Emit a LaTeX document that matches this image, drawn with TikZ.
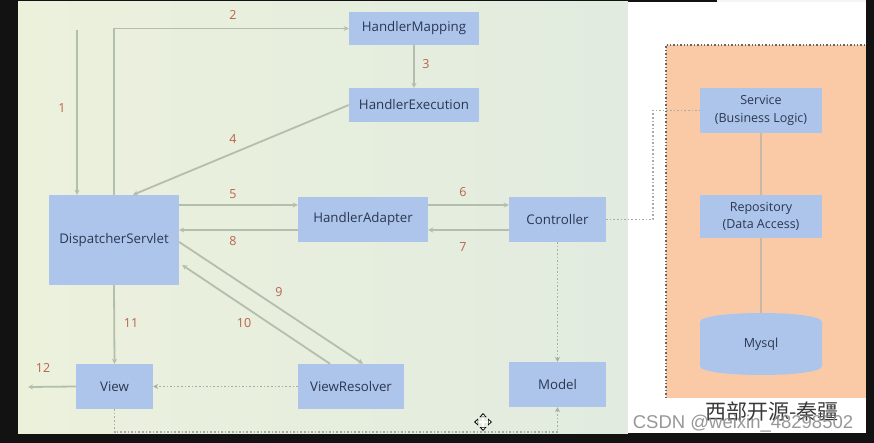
\documentclass[tikz,border=0pt]{standalone}
\usepackage{fontspec}
\setmainfont{Open Sans}
\newfontfamily\cjk{Noto Sans CJK SC}
\newfontfamily\arialf{Liberation Sans}
\usetikzlibrary{arrows.meta,calc}
\definecolor{bgA}{HTML}{ECF1DC}
\definecolor{bgB}{HTML}{E1EBDF}
\definecolor{nodeblue}{HTML}{ADC5EB}
\definecolor{nodetext}{HTML}{2B3752}
\definecolor{arrowc}{HTML}{B3BFAC}
\definecolor{dotc}{HTML}{A6ADA4}
\definecolor{numc}{HTML}{B8644A}
\definecolor{orangec}{HTML}{FAC9A6}
\definecolor{linkc}{HTML}{C9B8A6}
\tikzset{
  box/.style={fill=nodeblue, text=nodetext, inner sep=0pt, font=\fontsize{13.3}{16}\selectfont, align=center},
  arr/.style={draw=arrowc, line width=1.8pt, -{Stealth[length=5pt,width=5pt]}},
  dotarr/.style={draw=dotc, line width=1.6pt, dotted, -{Stealth[length=5pt,width=5pt]}},
  dotline/.style={draw=dotc, line width=1.6pt, dotted},
  num/.style={text=numc, font=\fontsize{12.5}{14}\selectfont, inner sep=0pt},
}
\begin{document}
\begin{tikzpicture}[x=1pt,y=-1pt]
\useasboundingbox (0,0) rectangle (874,443);
% frame and backgrounds
\fill[black!93] (0,0) rectangle (874,443);
\shade[left color=bgA, right color=bgB] (18,2) rectangle (628,433);
\fill[white] (628,2) rectangle (866,433);
\fill[white!96!black] (717,0) rectangle (866,2);
% orange panel
\fill[orangec] (666,45) rectangle (866,398);
\draw[black!60, line width=1.4pt, dotted] (666,398) -- (666,45) -- (866,45);
% nodes
\node[box, minimum width=130pt, minimum height=33pt] (HM) at (414,28.5) {HandlerMapping};
\node[box, minimum width=130pt, minimum height=34pt] (HE) at (414,105) {HandlerExecution};
\node[box, minimum width=130pt, minimum height=90pt] (DS) at (114,240) {DispatcherServlet};
\node[box, minimum width=130pt, minimum height=45pt] (HA) at (363,219.5) {HandlerAdapter};
\node[box, minimum width=97pt, minimum height=45pt] (CT) at (557.5,219.5) {Controller};
\node[box, minimum width=97pt, minimum height=45pt] (MD) at (557.5,384.5) {Model};
\node[box, minimum width=77pt, minimum height=45pt] (VW) at (114.5,386.5) {View};
\node[box, minimum width=106pt, minimum height=45pt] (VR) at (351,386.5) {ViewResolver};
\node[box, minimum width=122pt, minimum height=45pt, font=\fontsize{12.5}{17.5}\selectfont] (SV) at (761,110.5) {Service\\(Business Logic)};
\node[box, minimum width=122pt, minimum height=43pt, font=\fontsize{12.5}{17.5}\selectfont] (RP) at (761,216.5) {Repository\\(Data Access)};
\fill[nodeblue] (700,322) .. controls (700,310) and (822,310) .. (822,322) -- (822,366) .. controls (822,378) and (700,378) .. (700,366) -- cycle;
\node[box, fill=none, minimum width=122pt, minimum height=62pt, font=\fontsize{12.5}{16}\selectfont] (MY) at (761,344) {Mysql};
% helper coordinates
\coordinate (s1) at (77,30);
\coordinate (e12) at (28,387);
\coordinate (kx) at (653,0);
% solid arrows
\draw[arr] (s1) -- (DS.north -| s1);
\draw[arr] (DS.north) |- (HM.west);
\draw[arr, line width=1.2pt] (HM) -- (HE);
\draw[arr] (HE.west) -- ([xshift=19pt]DS.north);
\draw[arr] (DS.east |- {$(HA.west)+(0,-14.5)$}) -- ($(HA.west)+(0,-14.5)$);
\draw[arr] ($(HA.west)+(0,10.5)$) -- (DS.east |- {$(HA.west)+(0,10.5)$});
\draw[arr] (HA.east |- {$(CT.west)+(0,-14.5)$}) -- ($(CT.west)+(0,-14.5)$);
\draw[arr] ($(CT.west)+(0,10.5)$) -- (HA.east |- {$(CT.west)+(0,10.5)$});
\draw[arr] ($(DS.east)+(0,2)$) -- ([xshift=12pt]VR.north);
\draw[arr] ([xshift=-21pt]VR.north) -- ($(DS.east)+(3,25)$);
\draw[arr] (DS.south) -- (VW.north);
\draw[arr] (VW.west) -- (e12);
% dotted arrows
\draw[dotarr] (VR.west) -- (VW.east);
\draw[dotarr] (CT.south) -- (MD.north);
\draw[dotarr] (VW.south) -- ++(0,23) -| (MD.south);
\draw[dotline] (CT.east) -- (CT.east -| kx) -- (kx |- SV.west) -- (SV.west);
% layer links
\draw[linkc, line width=1.8pt] (SV) -- (RP);
\draw[linkc, line width=1.8pt] (RP) -- (MY);
% step numbers
\node[num] (n1) at (62,108) {1};
\node[num] (n2) at (233,15) {2};
\node[num] (n3) at (426,64) {3};
\node[num] (n4) at (233,139) {4};
\node[num] (n5) at (233,194) {5};
\node[num] (n8) at (233,241) {8};
\node[num] (n6) at (463,192) {6};
\node[num] (n7) at (463,247) {7};
\node[num] (n9) at (279,292) {9};
\node[num] (n10) at (244,323) {10};
\node[num] (n11) at (131,323) {11};
\node[num] (n12) at (43,368) {12};
% watermark texts
\node[text=black!78, font=\cjk\fontsize{21}{24}\selectfont, inner sep=0pt] (wm1) at (772,412) {西部开源-秦疆};
\node[text=black!45, font=\arialf\fontsize{18.5}{20}\selectfont, inner sep=0pt, opacity=0.9] (wm2) at (743,424) {CSDN @weixin\_48298502};
% move cursor
\begin{scope}[shift={(483,422)}]
\draw[black, line width=2.6pt] (-7,0) -- (7,0) (0,-7) -- (0,7);
\draw[white, line width=1.2pt] (-6,0) -- (6,0) (0,-6) -- (0,6);
\fill[black] (-9,0) -- (-5,-3.5) -- (-5,3.5) -- cycle (9,0) -- (5,-3.5) -- (5,3.5) -- cycle
  (0,-9) -- (-3.5,-5) -- (3.5,-5) -- cycle (0,9) -- (-3.5,5) -- (3.5,5) -- cycle;
\fill[white] (-7.5,0) -- (-5.5,-2) -- (-5.5,2) -- cycle (7.5,0) -- (5.5,-2) -- (5.5,2) -- cycle
  (0,-7.5) -- (-2,-5.5) -- (2,-5.5) -- cycle (0,7.5) -- (-2,5.5) -- (2,5.5) -- cycle;
\end{scope}
\end{tikzpicture}
\end{document}
